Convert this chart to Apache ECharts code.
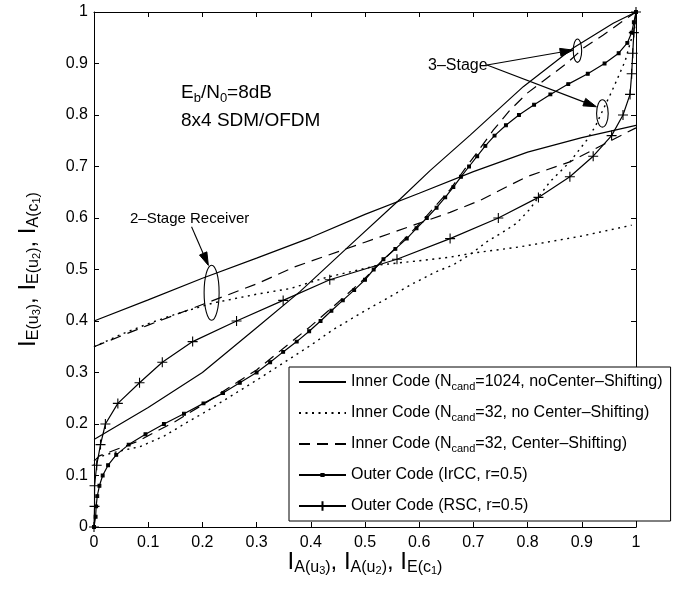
<!DOCTYPE html>
<html>
<head>
<meta charset="utf-8">
<script src="https://cdn.jsdelivr.net/npm/echarts@6/dist/echarts.min.js"></script>
<style>
  html, body { margin: 0; padding: 0; background: #fff; }
  #chart { width: 676px; height: 589px; }
</style>
</head>
<body>
<div id="chart"></div>
<script>
// ---- EXIT chart data: [I_A, I_E] pairs ----
const tickLabels = ['0', '0.1', '0.2', '0.3', '0.4', '0.5', '0.6', '0.7', '0.8', '0.9', '1'];

// Inner code, Ncand = 1024, no center shifting (2-stage and 3-stage receiver)
const inner1024TwoStage = [[0, 0.40], [0.1, 0.441], [0.2, 0.483], [0.3, 0.522], [0.4, 0.562], [0.5, 0.607],
  [0.6, 0.648], [0.7, 0.69], [0.8, 0.728], [0.9, 0.756], [1, 0.78]];
const inner1024ThreeStage = [[0, 0.17], [0.1, 0.232], [0.2, 0.30], [0.3, 0.387], [0.38, 0.457], [0.47, 0.545],
  [0.565, 0.637], [0.62, 0.692], [0.694, 0.761], [0.792, 0.855], [0.884, 0.93], [0.958, 0.978], [1, 1]];

// Inner code, Ncand = 32, no center shifting
const inner32TwoStage = [[0, 0.35], [0.05, 0.374], [0.103, 0.396], [0.15, 0.413], [0.22, 0.435], [0.3, 0.452],
  [0.362, 0.463], [0.43, 0.485], [0.528, 0.509], [0.6, 0.517], [0.657, 0.524], [0.7, 0.532], [0.786, 0.544],
  [0.9, 0.565], [0.992, 0.586]];
const inner32ThreeStage = [[0, 0.12], [0.005, 0.132], [0.02, 0.14], [0.05, 0.148], [0.085, 0.156], [0.13, 0.177],
  [0.173, 0.204], [0.2, 0.22], [0.3, 0.285], [0.4, 0.353], [0.441, 0.383], [0.5, 0.42], [0.546, 0.447],
  [0.589, 0.473], [0.632, 0.496], [0.663, 0.509], [0.695, 0.53], [0.725, 0.554], [0.755, 0.573], [0.78, 0.59],
  [0.804, 0.617], [0.823, 0.645], [0.841, 0.67], [0.878, 0.709], [0.909, 0.751], [0.925, 0.778], [0.94, 0.812],
  [0.955, 0.845], [0.968, 0.876], [0.98, 0.905], [0.988, 0.935], [0.995, 0.96], [1, 0.98]];

// Inner code, Ncand = 32, center shifting
const inner32csTwoStage = [[0, 0.35], [0.1, 0.392], [0.2, 0.432], [0.3, 0.472], [0.37, 0.505], [0.5, 0.553],
  [0.657, 0.611], [0.712, 0.634], [0.798, 0.68], [0.878, 0.709], [0.983, 0.766], [1, 0.775]];
const inner32csThreeStage = [[0, 0.128], [0.01, 0.138], [0.03, 0.146], [0.08, 0.166], [0.15, 0.205], [0.2, 0.237],
  [0.257, 0.276], [0.3, 0.305], [0.4, 0.39], [0.45, 0.436], [0.5, 0.483], [0.55, 0.535], [0.6, 0.588],
  [0.657, 0.655], [0.684, 0.695], [0.706, 0.726], [0.737, 0.771], [0.768, 0.81], [0.80, 0.843], [0.835, 0.871],
  [0.872, 0.90], [0.903, 0.93], [0.939, 0.955], [0.97, 0.978], [1, 1]];

// Outer codes (inverted EXIT curves: x = I_E(c1), y = I_A(c1))
const irccOuter = [[0, 0], [0.003, 0.02], [0.004, 0.04], [0.006, 0.06], [0.010, 0.08], [0.016, 0.10],
  [0.026, 0.12], [0.041, 0.14], [0.064, 0.16], [0.095, 0.18], [0.129, 0.20], [0.166, 0.22], [0.202, 0.24],
  [0.238, 0.26], [0.269, 0.28], [0.300, 0.30], [0.325, 0.32], [0.349, 0.34], [0.374, 0.36], [0.397, 0.38],
  [0.418, 0.40], [0.438, 0.42], [0.459, 0.44], [0.480, 0.46], [0.500, 0.48], [0.516, 0.50], [0.534, 0.52],
  [0.556, 0.54], [0.577, 0.56], [0.595, 0.58], [0.614, 0.60], [0.632, 0.62], [0.648, 0.64], [0.663, 0.66],
  [0.677, 0.68], [0.692, 0.70], [0.707, 0.72], [0.722, 0.74], [0.739, 0.76], [0.760, 0.78], [0.784, 0.80],
  [0.812, 0.82], [0.842, 0.84], [0.875, 0.86], [0.911, 0.88], [0.942, 0.90], [0.968, 0.92], [0.984, 0.94],
  [0.992, 0.96], [0.996, 0.98], [1, 1]];
const rscOuter = [[0, 0], [0.001, 0.04], [0.001, 0.08], [0.005, 0.12], [0.012, 0.16], [0.021, 0.20],
  [0.044, 0.24], [0.084, 0.28], [0.126, 0.32], [0.182, 0.36], [0.263, 0.40], [0.349, 0.44], [0.435, 0.48],
  [0.559, 0.52], [0.657, 0.56], [0.746, 0.60], [0.82, 0.64], [0.878, 0.68], [0.921, 0.72], [0.955, 0.76],
  [0.976, 0.80], [0.989, 0.84], [0.992, 0.88], [0.994, 0.92], [0.996, 0.96], [1, 1]];

// Legend captions keyed by series name
const legendNames = ['inner1024', 'inner32', 'inner32cs', 'ircc', 'rsc'];
const legendText = {
  inner1024: 'Inner Code (N{sub|cand}=1024, noCenter\u2013Shifting)',
  inner32: 'Inner Code (N{sub|cand}=32, no Center\u2013Shifting)',
  inner32cs: 'Inner Code (N{sub|cand}=32, Center\u2013Shifting)',
  ircc: 'Outer Code (IrCC, r=0.5)',
  rsc: 'Outer Code (RSC, r=0.5)'
};

// ---- styling ----
const FONT = '"Liberation Sans", Arial, Helvetica, sans-serif';
const BLACK = '#000';
const LINE_W = 1.2;
const DOTTED = [2, 4.5];
const DASHED = [11, 7];
const PLUS = 'path://M0,5L10,5M5,0L5,10';
const DOT = 'path://M0,0M12,12M4.6,4.6L7.4,4.6L7.4,7.4L4.6,7.4Z';

function innerSeries(name, data, dash) {
  return {
    type: 'line', name: name, data: data, symbol: 'none', silent: true,
    lineStyle: { color: BLACK, width: dash === DOTTED ? 1.4 : LINE_W, type: dash },
    itemStyle: { color: BLACK }
  };
}
function outerSeries(name, data, symbol, size) {
  return {
    type: 'line', name: name, data: data, symbol: symbol, symbolSize: size, silent: true,
    showSymbol: true,
    lineStyle: { color: BLACK, width: LINE_W, type: 'solid' },
    itemStyle: { color: BLACK, borderColor: BLACK, borderWidth: 1.1 }
  };
}

const axisNameRich = {
  i: { fontFamily: FONT, fontSize: 24, lineHeight: 28, color: BLACK },
  s: { fontFamily: FONT, fontSize: 16, lineHeight: 10, verticalAlign: 'bottom', color: BLACK },
  ss: { fontFamily: FONT, fontSize: 11, lineHeight: 1, verticalAlign: 'bottom', color: BLACK }
};

function baseAxis(extra) {
  return Object.assign({
    type: 'value', min: 0, max: 1, interval: 0.1,
    axisLine: { onZero: false, lineStyle: { color: BLACK, width: 1 } },
    axisTick: { inside: true, length: 5, lineStyle: { color: BLACK, width: 1 } },
    splitLine: { show: false },
    nameMoveOverlap: false
  }, extra);
}
const tickFmt = v => tickLabels[Math.round(v * 10)];

const option = {
  animation: false,
  backgroundColor: '#fff',
  grid: { left: 94, right: 40, top: 12, bottom: 62, containLabel: false, outerBoundsMode: 'none' },
  xAxis: [
    baseAxis({
      position: 'bottom',
      axisLabel: { color: BLACK, fontSize: 16, fontFamily: FONT, margin: 8, formatter: tickFmt },
      name: '{i|I}{s|A(u}{ss|3}{s|)}{i|, I}{s|A(u}{ss|2}{s|)}{i|, I}{s|E(c}{ss|1}{s|)}',
      nameLocation: 'middle', nameGap: 21,
      nameTextStyle: { rich: axisNameRich, fontFamily: FONT, color: BLACK }
    }),
    baseAxis({ position: 'top', axisLabel: { show: false } })
  ],
  yAxis: [
    baseAxis({
      position: 'left',
      axisLabel: { color: BLACK, fontSize: 16, fontFamily: FONT, margin: 6, formatter: tickFmt },
      name: '{i|I}{s|E(u}{ss|3}{s|)}{i|, I}{s|E(u}{ss|2}{s|)}{i|, I}{s|A(c}{ss|1}{s|)}',
      nameLocation: 'middle', nameGap: 52, nameRotate: 90,
      nameTextStyle: { rich: axisNameRich, fontFamily: FONT, color: BLACK }
    }),
    baseAxis({ position: 'right', axisLabel: { show: false } })
  ],
  legend: {
    orient: 'vertical', left: 289, top: 367,
    padding: [5, 8, 5, 9], itemGap: 11, itemWidth: 47, itemHeight: 12,
    backgroundColor: '#fff', borderColor: BLACK, borderWidth: 1, borderRadius: 0,
    selectedMode: false,
    textStyle: {
      color: BLACK, fontFamily: FONT, fontSize: 16, lineHeight: 20,
      rich: { sub: { fontFamily: FONT, fontSize: 11, lineHeight: 6, verticalAlign: 'bottom', color: BLACK } }
    },
    formatter: name => legendText[name],
    data: [
      { name: 'inner1024', itemStyle: { opacity: 0 } },
      { name: 'inner32', itemStyle: { opacity: 0 } },
      { name: 'inner32cs', itemStyle: { opacity: 0 } },
      { name: 'ircc' },
      { name: 'rsc' }
    ]
  },
  series: [
    innerSeries('inner1024', inner1024TwoStage, 'solid'),
    innerSeries('inner1024', inner1024ThreeStage, 'solid'),
    innerSeries('inner32', inner32TwoStage, DOTTED),
    innerSeries('inner32', inner32ThreeStage, DOTTED),
    innerSeries('inner32cs', inner32csTwoStage, DASHED),
    innerSeries('inner32cs', inner32csThreeStage, DASHED),
    outerSeries('ircc', irccOuter, DOT, 12),
    outerSeries('rsc', rscOuter, PLUS, 10)
  ]
};

const chart = echarts.init(document.getElementById('chart'), null, { renderer: 'canvas' });
chart.setOption(option);

// ---- annotations (anchored in data coordinates) ----
const notes = {
  ebn0: { at: [0.1605, 0.867], text: '{m|E}{s|b}{m|/N}{s|0}{m|=8dB}' },
  system: { at: [0.1605, 0.812], text: '{m|8x4 SDM/OFDM}' },
  twoStage: { at: [0.0664, 0.616], text: '2\u2013Stage Receiver', size: 15, lh: 18 },
  threeStage: { at: [0.6162, 0.9155], text: '3\u2013Stage', size: 16, lh: 20 }
};
const ellipses = [
  { c: [0.217, 0.455], rx: 7.5, ry: 27.5 },
  { c: [0.892, 0.925], rx: 4.2, ry: 11.7 },
  { c: [0.938, 0.803], rx: 5.8, ry: 13.7 }
];
const arrows = [
  { from: [0.180, 0.583], to: [0.211, 0.508] },
  { from: [0.725, 0.897], to: [0.884, 0.926] },
  { from: [0.725, 0.897], to: [0.927, 0.816] }
];

const toPx = p => chart.convertToPixel({ seriesIndex: 0 }, p);
const graphics = [];
const noteRich = {
  m: { fontFamily: FONT, fontSize: 19, lineHeight: 24, fill: BLACK },
  s: { fontFamily: FONT, fontSize: 13, lineHeight: 13, verticalAlign: 'bottom', fill: BLACK }
};
Object.keys(notes).forEach(k => {
  const n = notes[k];
  const p = toPx(n.at);
  const style = { text: n.text, x: p[0], y: p[1], fill: BLACK, fontFamily: FONT, align: 'left', verticalAlign: 'top' };
  if (n.size) { style.fontSize = n.size; style.lineHeight = n.lh; } else { style.rich = noteRich; }
  graphics.push({ type: 'text', silent: true, z: 100, style: style });
});
ellipses.forEach(e => {
  const c = toPx(e.c);
  graphics.push({ type: 'ellipse', silent: true, z: 100,
    shape: { cx: c[0], cy: c[1], rx: e.rx, ry: e.ry },
    style: { fill: 'none', stroke: BLACK, lineWidth: 1.1 } });
});
arrows.forEach(a => {
  const p0 = toPx(a.from), p1 = toPx(a.to);
  const dx = p1[0] - p0[0], dy = p1[1] - p0[1];
  const len = Math.hypot(dx, dy);
  const ux = dx / len, uy = dy / len;
  const headLen = 13, headHalf = 4;
  const bx = p1[0] - ux * headLen, by = p1[1] - uy * headLen;
  graphics.push({ type: 'line', silent: true, z: 100,
    shape: { x1: p0[0], y1: p0[1], x2: bx, y2: by },
    style: { stroke: BLACK, lineWidth: 1.1 } });
  graphics.push({ type: 'polygon', silent: true, z: 100,
    shape: { points: [[p1[0], p1[1]], [bx - uy * headHalf, by + ux * headHalf], [bx + uy * headHalf, by - ux * headHalf]] },
    style: { fill: BLACK, stroke: BLACK, lineWidth: 1 } });
});
chart.setOption({ graphic: graphics });
</script>
</body>
</html>
